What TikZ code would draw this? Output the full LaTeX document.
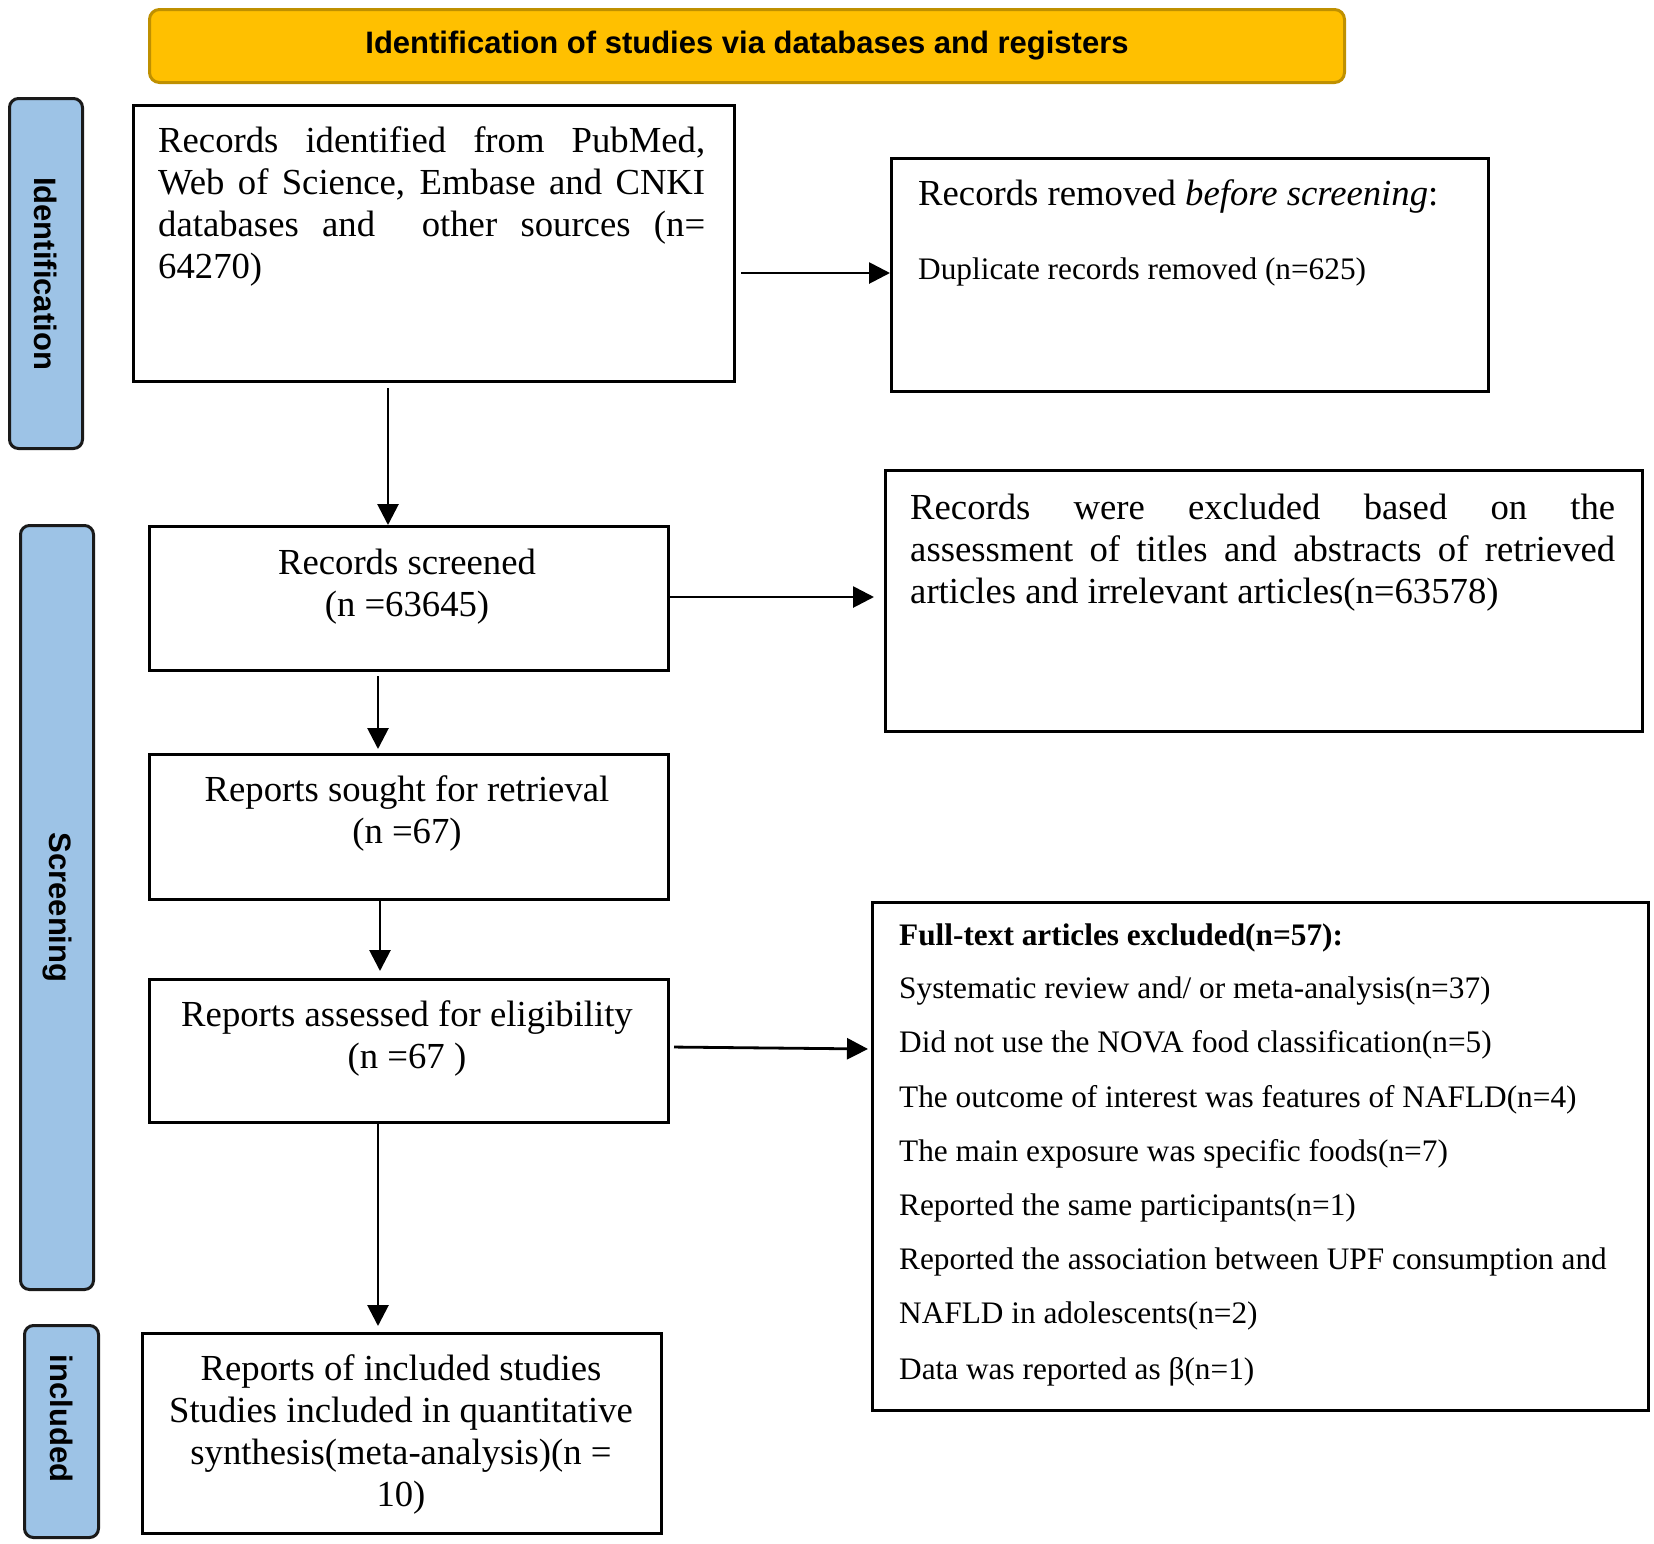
\documentclass[tikz,border=0pt]{standalone}
\usepackage{fontspec}
\setmainfont{Liberation Serif}
\newfontfamily\arialf{Liberation Sans}
\usetikzlibrary{arrows.meta}
\definecolor{hdrfill}{HTML}{FFC000}
\definecolor{hdrline}{HTML}{BF9000}
\definecolor{sidefill}{HTML}{9DC3E6}
\definecolor{sideline}{HTML}{1A1A1A}
\newcommand\tfbig{\fontsize{36.7}{42.2}\selectfont}
\newcommand\tfsm{\fontsize{31.3}{54.2}\selectfont}
\newcommand\jline[1]{\makebox[547pt][s]{#1}}
\newcommand\kline[1]{\makebox[705pt][s]{#1}}
\begin{document}
\begin{tikzpicture}[x=1pt,y=-1pt,
  box/.style={draw=black,line width=3pt,anchor=north west,inner sep=0pt},
  hdrbox/.style={draw=hdrline,fill=hdrfill,line width=3pt,rounded corners=10pt,anchor=north west,inner sep=0pt},
  sidebox/.style={draw=sideline,fill=sidefill,line width=3pt,rounded corners=9pt,anchor=north west,inner sep=0pt},
  sidelabel/.style={rotate=-90,font=\arialf\bfseries\fontsize{31}{36}\selectfont,inner sep=0pt},
  txt/.style={inner sep=0pt,font=\tfbig},
  stxt/.style={inner sep=0pt,font=\tfsm,anchor=base west},
  arr/.style={line width=2.8pt,-{Triangle[length=21pt,width=21pt]}}]
\useasboundingbox (0,0) rectangle (1654,1543);
\fill[white] (0,0) rectangle (1654,1543);

% header
\node[hdrbox,minimum width=1195pt,minimum height=73pt] (hdr) at (148,8) {};
\node[font=\arialf\bfseries\fontsize{31}{36}\selectfont,inner sep=0pt] (hdrt) at (hdr.center) {Identification of studies via databases and registers};

% side boxes
\node[sidebox,minimum width=73pt,minimum height=350pt] (sideI) at (8,97) {};
\node[sidelabel] (sideIt) at (sideI.center) {Identification};
\node[sidebox,minimum width=73pt,minimum height=764pt] (sideS) at (19,524) {};
\node[sidelabel] (sideSt) at (sideS.center) {Screening};
\node[sidebox,minimum width=74pt,minimum height=212pt] (sideN) at (23,1324) {};
\node[sidelabel] (sideNt) at ([yshift=13pt]sideN.center) {included};

% boxes (multi-line text nodes: base anchor = last line's baseline)
\node[box,minimum width=601pt,minimum height=276pt] (b1) at (132,104) {};
\node[txt,anchor=base west,align=left] (b1t) at (158,278.6) {\jline{Records identified from PubMed,}\\\jline{Web of Science, Embase and CNKI}\\\jline{databases and\ \ other sources (n=}\\64270)};

\node[box,minimum width=597pt,minimum height=233pt] (rem) at (890,157) {};
\node[txt,anchor=base west] (remt) at (918,205) {Records removed \textit{before screening}:};
\node[stxt] (remd) at (918,279) {Duplicate records removed (n=625)};

\node[box,minimum width=519pt,minimum height=144pt] (scr) at (148,525) {};
\node[txt,anchor=base,align=center] (scrt) at (407,616.2) {Records screened\\(n =63645)};

\node[box,minimum width=757pt,minimum height=261pt] (exc) at (884,469) {};
\node[txt,anchor=base west,align=left] (exct) at (910,603.4) {\kline{Records were excluded based on the}\\\kline{assessment of titles and abstracts of retrieved}\\articles and irrelevant articles(n=63578)};

\node[box,minimum width=519pt,minimum height=145pt] (sou) at (148,753) {};
\node[txt,anchor=base,align=center] (sout) at (407,843.2) {Reports sought for retrieval\\(n =67)};

\node[box,minimum width=519pt,minimum height=143pt] (ass) at (148,978) {};
\node[txt,anchor=base,align=center] (asst) at (407,1068.2) {Reports assessed for eligibility\\(n =67 )};

\node[box,minimum width=776pt,minimum height=508pt] (ft) at (871,901) {};
\node[stxt,font=\tfsm\bfseries] (ft1) at (899,945) {Full-text articles excluded(n=57):};
\node[stxt] (ft2) at (899,998) {Systematic review and/ or meta-analysis(n=37)};
\node[stxt] (ft3) at (899,1052) {Did not use the NOVA food classification(n=5)};
\node[stxt] (ft4) at (899,1107) {The outcome of interest was features of NAFLD(n=4)};
\node[stxt] (ft5) at (899,1161) {The main exposure was specific foods(n=7)};
\node[stxt] (ft6) at (899,1215) {Reported the same participants(n=1)};
\node[stxt] (ft7) at (899,1269) {Reported the association between UPF consumption and};
\node[stxt] (ft8) at (899,1323) {NAFLD in adolescents(n=2)};
\node[stxt] (ft9) at (899,1379) {Data was reported as β(n=1)};

\node[box,minimum width=519pt,minimum height=200pt] (inc) at (141,1332) {};
\node[txt,anchor=base,align=center] (inct) at (401,1506.6) {Reports of included studies\\Studies included in quantitative\\synthesis(meta-analysis)(n =\\10)};

% connector guides
\coordinate (xa) at (388,0);
\coordinate (xb) at (378,0);
\coordinate (xc) at (380,0);
\coordinate (ya) at (0,273);
\coordinate (yb) at (0,597);
\coordinate (yc) at (0,1047);
\coordinate (yd) at (0,1049);

% connectors
\draw[arr,shorten <=5pt] (b1.east |- ya) -- (rem.west |- ya);
\draw[arr,shorten <=5pt] (b1.south -| xa) -- (scr.north -| xa);
\draw[arr,shorten >=10pt] (scr.east |- yb) -- (exc.west |- yb);
\draw[arr,shorten <=4pt,shorten >=4pt] (scr.south -| xb) -- (sou.north -| xb);
\draw[arr,shorten >=7pt] (sou.south -| xc) -- (ass.north -| xc);
\draw[arr,shorten <=4pt,shorten >=3pt] (ass.east |- yc) -- (ft.west |- yd);
\draw[arr,shorten >=6pt] (ass.south -| xb) -- (inc.north -| xb);
\end{tikzpicture}
\end{document}
